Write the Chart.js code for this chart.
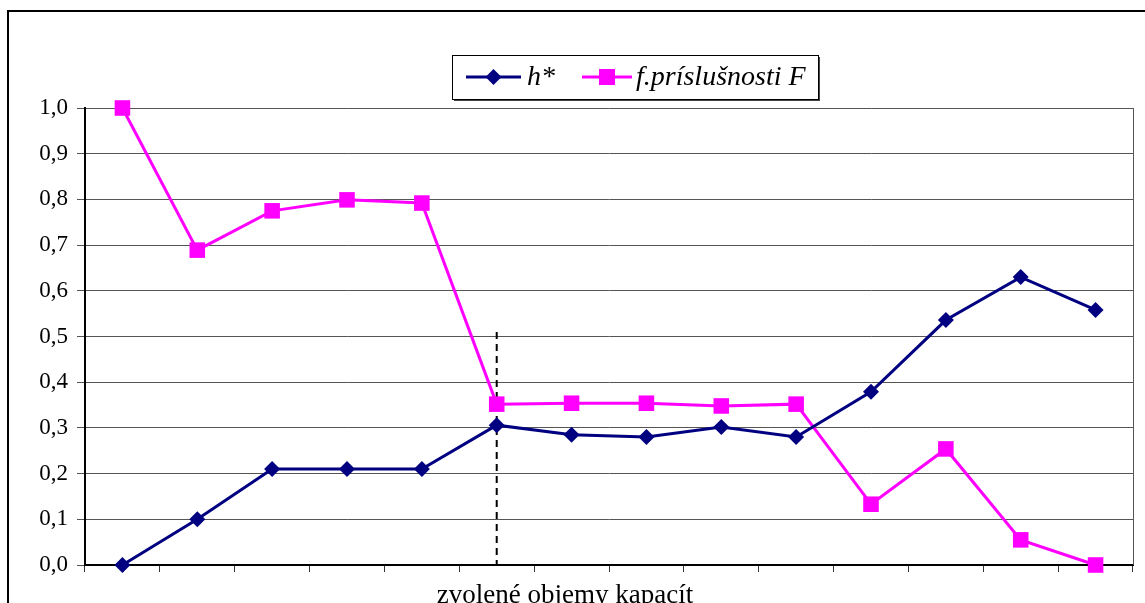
<!DOCTYPE html>
<html lang="sk">
<head>
<meta charset="UTF-8">
<title>h* a f.príslušnosti F</title>
<script src="https://cdn.jsdelivr.net/npm/chart.js"></script>
<style>
  body { margin: 0; background: #fff; }
  #wrap { position: relative; width: 1145px; height: 603px; overflow: hidden; }
  #frame { position: absolute; left: 7px; top: 10px; width: 1300px; height: 800px; border: 2px solid #000; }
  canvas { position: absolute; left: 0; top: 0; }
</style>
</head>
<body>
<div id="wrap">
  <div id="frame"></div>
  <canvas id="chart" width="1145" height="603"></canvas>
</div>
<script>
// data
const categories = ['1', '2', '3', '4', '5', '6', '7', '8', '9', '10', '11', '12', '13', '14'];
const hStar = [0.0, 0.10, 0.21, 0.21, 0.21, 0.306, 0.285, 0.28, 0.302, 0.28, 0.379, 0.536, 0.63, 0.558];
const fPrislusnosti = [1.0, 0.689, 0.775, 0.799, 0.792, 0.352, 0.354, 0.354, 0.348, 0.352, 0.133, 0.254, 0.055, 0.0];
const yTicks = [0, 0.1, 0.2, 0.3, 0.4, 0.5, 0.6, 0.7, 0.8, 0.9, 1.0];
const xTitle = 'zvolené objemy kapacít';
// dashed marker line: category index and its top value
const markerIndex = 5;
const markerTop = 0.51;

const serif = "'Liberation Serif', 'Times New Roman', serif";

function drawMarker(ctx, style, x, y, color) {
  ctx.save();
  ctx.fillStyle = color;
  ctx.beginPath();
  if (style === 'rectRot') {
    const r = 8;
    ctx.moveTo(x - r, y);
    ctx.lineTo(x, y - r);
    ctx.lineTo(x + r, y);
    ctx.lineTo(x, y + r);
    ctx.closePath();
  } else {
    const s = 8;
    ctx.rect(x - s, y - s, 2 * s, 2 * s);
  }
  ctx.fill();
  ctx.restore();
}

const extras = {
  id: 'extras',
  beforeDatasetsDraw(chart) {
    const { ctx, chartArea, scales } = chart;
    ctx.save();
    // right border of plot area
    ctx.strokeStyle = '#555';
    ctx.lineWidth = 1;
    ctx.beginPath();
    ctx.moveTo(chartArea.right + 0.5, chartArea.top);
    ctx.lineTo(chartArea.right + 0.5, chartArea.bottom);
    ctx.stroke();
    // dashed vertical line
    const x = scales.x.getPixelForValue(markerIndex);
    ctx.strokeStyle = '#000';
    ctx.lineWidth = 2;
    ctx.setLineDash([7, 5]);
    ctx.beginPath();
    ctx.moveTo(x, scales.y.getPixelForValue(markerTop));
    ctx.lineTo(x, chartArea.bottom);
    ctx.stroke();
    ctx.restore();
  },
  afterDraw(chart) {
    const ctx = chart.ctx;
    ctx.save();
    // x axis title, cut by the bottom edge like in the original
    ctx.font = '27px ' + serif;
    ctx.fillStyle = '#000';
    ctx.textAlign = 'center';
    ctx.textBaseline = 'alphabetic';
    ctx.fillText(xTitle, 565, 603);

    // legend box with shadow
    const bx = 452, by = 55, bw = 366, bh = 44;
    ctx.fillStyle = '#444';
    ctx.fillRect(bx + 2, by + 2, bw, bh);
    ctx.fillStyle = '#fff';
    ctx.fillRect(bx, by, bw, bh);
    ctx.strokeStyle = '#000';
    ctx.lineWidth = 1;
    ctx.strokeRect(bx + 0.5, by + 0.5, bw, bh);
    const cy = by + 22;
    const items = [
      { x0: 466, x1: 521, tx: 527 },
      { x0: 582, x1: 632, tx: 636 }
    ];
    ctx.font = 'italic 28px ' + serif;
    ctx.textAlign = 'left';
    ctx.textBaseline = 'middle';
    chart.data.datasets.forEach((ds, i) => {
      const it = items[i];
      ctx.strokeStyle = ds.borderColor;
      ctx.lineWidth = 3;
      ctx.beginPath();
      ctx.moveTo(it.x0, cy);
      ctx.lineTo(it.x1, cy);
      ctx.stroke();
      drawMarker(ctx, ds.pointStyle, (it.x0 + it.x1) / 2, cy, ds.borderColor);
      ctx.fillStyle = '#000';
      ctx.fillText(ds.label, it.tx, cy + 1);
    });
    ctx.restore();
  }
};

new Chart(document.getElementById('chart'), {
  type: 'line',
  data: {
    labels: categories,
    datasets: [
      {
        label: 'h*',
        data: hStar,
        borderColor: '#000080',
        backgroundColor: '#000080',
        borderWidth: 3,
        pointStyle: 'rectRot',
        pointRadius: 8,
        pointBorderWidth: 0,
        clip: false
      },
      {
        label: 'f.príslušnosti F',
        data: fPrislusnosti,
        borderColor: '#ff00ff',
        backgroundColor: '#ff00ff',
        borderWidth: 3,
        pointStyle: 'rect',
        pointRadius: 11,
        pointBorderWidth: 0,
        clip: false
      }
    ]
  },
  options: {
    responsive: false,
    animation: false,
    events: [],
    layout: { padding: { top: 108, right: 12, left: 0, bottom: 0 } },
    plugins: { legend: { display: false }, tooltip: { enabled: false } },
    scales: {
      x: {
        type: 'category',
        offset: true,
        grid: { offset: true, drawOnChartArea: false, tickLength: 7, color: '#333' },
        border: { color: '#000', width: 2 },
        ticks: { display: false },
        afterFit(s) { s.height = 38; }
      },
      y: {
        min: 0,
        max: 1,
        afterBuildTicks(s) { s.ticks = yTicks.map(v => ({ value: v })); },
        grid: { color: '#555', lineWidth: 1, tickLength: 8, tickColor: '#555' },
        border: { color: '#000', width: 2 },
        ticks: {
          color: '#000',
          padding: 9,
          font: { family: serif, size: 23 },
          callback: v => v.toFixed(1).replace('.', ',')
        },
        afterFit(s) { s.width = 85; }
      }
    }
  },
  plugins: [extras]
});
</script>
</body>
</html>
